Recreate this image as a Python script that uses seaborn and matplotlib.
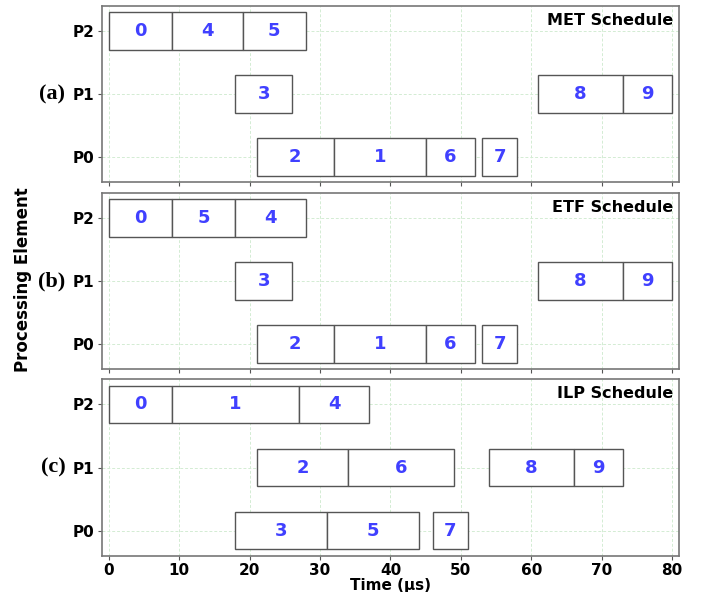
import matplotlib
matplotlib.use('Agg')
import matplotlib.pyplot as plt
import seaborn as sns
import pandas as pd

# Schedules: task id, processing element, start, end (µs)
MET_TASKS = [0, 4, 5, 3, 8, 9, 2, 1, 6, 7]
MET_PE = [2, 2, 2, 1, 1, 1, 0, 0, 0, 0]
MET_START = [0, 9, 19, 18, 61, 73, 21, 32, 45, 53]
MET_END = [9, 19, 28, 26, 73, 80, 32, 45, 52, 58]

ETF_TASKS = [0, 5, 4, 3, 8, 9, 2, 1, 6, 7]
ETF_PE = [2, 2, 2, 1, 1, 1, 0, 0, 0, 0]
ETF_START = [0, 9, 18, 18, 61, 73, 21, 32, 45, 53]
ETF_END = [9, 18, 28, 26, 73, 80, 32, 45, 52, 58]

ILP_TASKS = [0, 1, 4, 2, 6, 8, 9, 3, 5, 7]
ILP_PE = [2, 2, 2, 1, 1, 1, 1, 0, 0, 0]
ILP_START = [0, 9, 27, 21, 34, 54, 66, 18, 31, 46]
ILP_END = [9, 27, 37, 34, 49, 66, 73, 31, 44, 51]

PE_LABELS = ['P0', 'P1', 'P2']
X_TICKS = [0, 10, 20, 30, 40, 50, 60, 70, 80]
TITLES = ['MET Schedule', 'ETF Schedule', 'ILP Schedule']
PANEL_TAGS = ['(a)', '(b)', '(c)']

sns.set_style('white')
plt.rcParams['font.family'] = ['DejaVu Sans']
plt.rcParams['text.color'] = 'black'
plt.rcParams['xtick.color'] = 'black'
plt.rcParams['ytick.color'] = 'black'
plt.rcParams['axes.labelcolor'] = 'black'


def make_df(tasks, pe, start, end):
    return pd.DataFrame({'task': tasks, 'pe': pe, 'start': start, 'end': end})


schedules = [
    make_df(MET_TASKS, MET_PE, MET_START, MET_END),
    make_df(ETF_TASKS, ETF_PE, ETF_START, ETF_END),
    make_df(ILP_TASKS, ILP_PE, ILP_START, ILP_END),
]

fig = plt.figure(figsize=(7.09, 5.92), dpi=100)
left, width = 0.1434, 0.8146
boxes = [(0.692, 0.2978), (0.3762, 0.2983), (0.0613, 0.298)]

axes = []
for i, (df, title) in enumerate(zip(schedules, TITLES)):
    b, h = boxes[i]
    ax = fig.add_axes([left, b, width, h])
    axes.append(ax)
    ax.barh(df['pe'], df['end'] - df['start'], left=df['start'], height=0.6,
            color='white', edgecolor='#555555', linewidth=1.0, zorder=2)
    for _, r in df.iterrows():
        ax.text((r['start'] + r['end']) / 2, r['pe'], str(r['task']),
                ha='center', va='center', color='#4040ff', fontsize=13,
                fontweight='bold', zorder=3)
    ax.set_xlim(-1, 81)
    ax.set_ylim(-0.4, 2.4)
    ax.set_yticks([0, 1, 2])
    ax.set_yticklabels(PE_LABELS, fontsize=11, fontweight='bold')
    ax.set_xticks(X_TICKS)
    ax.grid(True, color='#d3ecd3', linestyle=(0, (3, 2)), linewidth=0.7, zorder=0)
    ax.set_axisbelow(True)
    for s in ax.spines.values():
        s.set_color('#777777')
        s.set_linewidth(1.2)
    ax.tick_params(axis='both', which='both', length=3, width=0.8, color='#555555', pad=2,
                   left=True, bottom=True)
    ax.text(0.99, 0.96, title, transform=ax.transAxes, ha='right', va='top',
            fontsize=11.5, fontweight='bold', color='black')
    if i < 2:
        ax.set_xticklabels([])
    else:
        ax.set_xticklabels([str(t) for t in X_TICKS], fontsize=11, fontweight='bold')
        ax.set_xlabel('Time (µs)', fontsize=11, fontweight='bold', labelpad=0)

for ax, tag in zip(axes, PANEL_TAGS):
    ax.text(-0.063, 1, tag, transform=ax.get_yaxis_transform(), ha='right', va='center',
            fontsize=16, fontweight='bold', family='Liberation Serif')

fig.text(0.032, 0.527, 'Processing Element', rotation=90, ha='center', va='center',
         fontsize=12, fontweight='bold')

plt.savefig('out.png', dpi=100)
plt.close()
